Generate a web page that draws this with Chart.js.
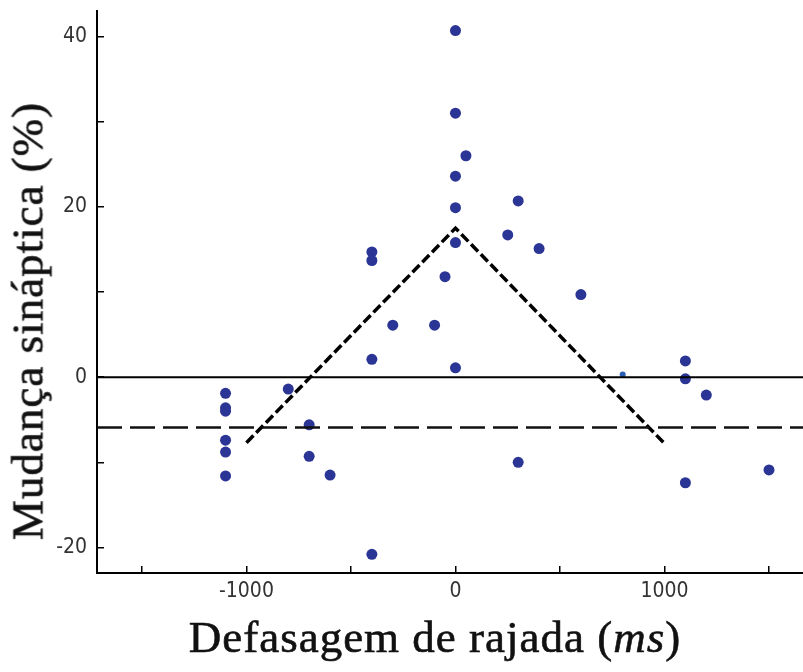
<!DOCTYPE html>
<html>
<head>
<meta charset="utf-8">
<script src="https://cdn.jsdelivr.net/npm/chart.js@4/dist/chart.umd.min.js"></script>
<style>
  html, body { margin: 0; padding: 0; background: #fff; overflow: hidden; }
  #wrap { position: relative; width: 803px; height: 672px; overflow: hidden; }
  #chart { display: block; }
  .axis-title {
    position: absolute;
    font-family: 'Liberation Serif', 'DejaVu Serif', serif;
    font-size: 45px;
    line-height: 45px;
    color: #111;
    -webkit-text-stroke: 0.6px #111;
    white-space: nowrap;
    letter-spacing: 1px;
  }
  #xTitle { left: 0; width: 870px; top: 615px; text-align: center; }
  #yTitle { left: 28px; top: 321px; transform: translate(-50%, -50%) rotate(-90deg); }
</style>
</head>
<body>
<div id="wrap">
  <canvas id="chart" width="809" height="672"></canvas>
  <div id="xTitle" class="axis-title">Defasagem de rajada (<i>ms</i>)</div>
  <div id="yTitle" class="axis-title">Mudança sináptica (%)</div>
</div>
<script>
// Scatter data: burst offset (ms) vs synaptic change (%)
const offsetMs = [
    -1100, -1100, -1100, -1100, -1100, -1100,
    -800, -700, -700, -600,
    -400, -400, -400, -400, -300, -100, -50,
    0, 0, 0, 0, 0, 0, 50,
    250, 300, 300, 400, 600,
    1100, 1100, 1100, 1200, 1500
];
const changePct = [
    -1.9, -3.6, -4.0, -7.4, -8.8, -11.6,
    -1.4, -5.6, -9.3, -11.5,
    14.7, 13.7, 2.1, -20.8, 6.1, 6.1, 11.8,
    40.7, 31.0, 23.6, 19.9, 15.8, 1.1, 26.0,
    16.7, 20.7, -10.0, 15.1, 9.7,
    1.9, -0.2, -12.4, -2.1, -10.9
];
// point mostly hidden under the zero line
const hiddenX = [800];
const hiddenY = [0.3];

// fitted triangle (dashed)
const fitX = [-1000, 0, 1000];
const fitY = [-7.7, 17.5, -7.8];

// horizontal reference lines
const xMin = -1715;
const xMax = 1665;
const zeroLevel = 0;
const baselineLevel = -5.9;

const yMin = -23;
const yMax = 43;
const xTicks = [-1500, -1000, -500, 0, 500, 1000, 1500];
const yTicks = [-20, -10, 0, 10, 20, 30, 40];

const toPoints = (xs, ys) => xs.map((x, i) => ({ x: x, y: ys[i] }));

const tickFont = { family: "'Liberation Sans Narrow', 'DejaVu Sans Condensed', 'Liberation Sans', sans-serif", size: 21 };

// drop the extra room Chart.js keeps for overflowing tick labels
function noPadding(scale) {
    scale.paddingTop = 0;
    scale.paddingBottom = 0;
    scale.paddingLeft = 0;
    scale.paddingRight = 0;
}

new Chart(document.getElementById('chart'), {
    type: 'scatter',
    data: {
        datasets: [
            {
                data: toPoints([xMin, xMax], [zeroLevel, zeroLevel]),
                showLine: true,
                borderColor: '#000',
                borderWidth: 2,
                pointRadius: 0,
                order: 0
            },
            {
                data: toPoints([xMin, xMax], [baselineLevel, baselineLevel]),
                showLine: true,
                borderColor: '#111',
                borderWidth: 2.5,
                borderDash: [25, 8],
                pointRadius: 0,
                order: 0
            },
            {
                data: toPoints(fitX, fitY),
                showLine: true,
                borderColor: '#000',
                borderWidth: 3.5,
                borderDash: [10, 4],
                pointRadius: 0,
                order: 0
            },
            {
                data: toPoints(offsetMs, changePct),
                backgroundColor: '#2b3595',
                borderWidth: 0,
                pointRadius: 5.5,
                order: 1
            },
            {
                data: toPoints(hiddenX, hiddenY),
                backgroundColor: '#2b5fb5',
                borderWidth: 0,
                pointRadius: 3,
                order: 2
            }
        ]
    },
    options: {
        responsive: false,
        animation: false,
        layout: { padding: { top: 11, right: 0, left: 0, bottom: 0 } },
        plugins: {
            legend: { display: false },
            tooltip: { enabled: false }
        },
        scales: {
            x: {
                type: 'linear',
                min: xMin,
                max: xMax,
                afterBuildTicks: (scale) => { scale.ticks = xTicks.map(v => ({ value: v })); },
                afterFit: (scale) => { scale.height = 99; noPadding(scale); },
                border: { color: '#000', width: 2 },
                grid: { drawOnChartArea: false, color: '#000', lineWidth: 1.5, tickLength: -7 },
                ticks: {
                    font: tickFont,
                    color: '#333',
                    padding: 13,
                    maxRotation: 0,
                    callback: (v) => (v % 1000 === 0 ? String(v) : '')
                }
            },
            y: {
                type: 'linear',
                min: yMin,
                max: yMax,
                afterBuildTicks: (scale) => { scale.ticks = yTicks.map(v => ({ value: v })); },
                afterFit: (scale) => { scale.width = 97; noPadding(scale); },
                border: { color: '#000', width: 2 },
                grid: { drawOnChartArea: false, color: '#000', lineWidth: 1.5, tickLength: -7 },
                ticks: {
                    font: tickFont,
                    color: '#333',
                    padding: 17,
                    callback: (v) => (v % 20 === 0 ? String(v) : '')
                }
            }
        }
    }
});
</script>
</body>
</html>
